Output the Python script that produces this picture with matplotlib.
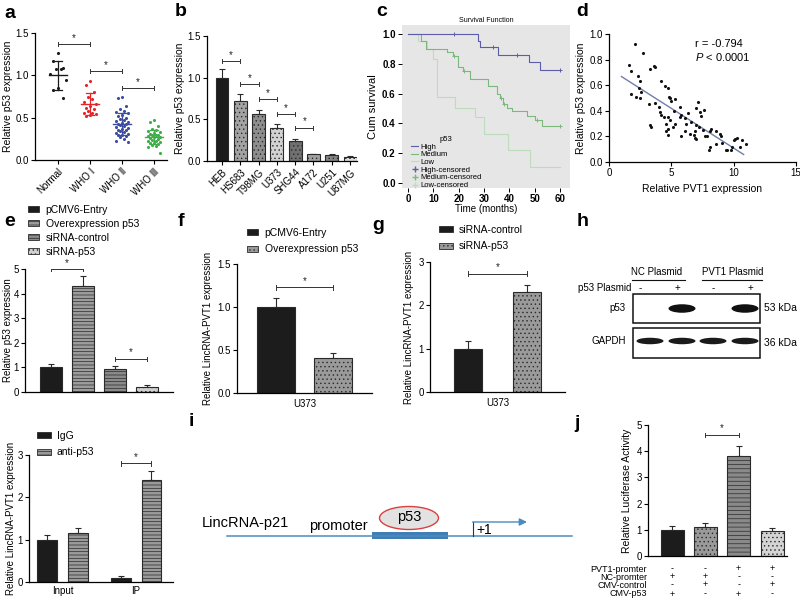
import numpy as np
import matplotlib
matplotlib.use('Agg')
import matplotlib.pyplot as plt
import matplotlib.transforms as mtransforms
from matplotlib.patches import Rectangle, Ellipse, Patch
from matplotlib.lines import Line2D

plt.rcParams['font.family'] = ['Liberation Sans', 'DejaVu Sans']
plt.rcParams['mathtext.fontset'] = 'custom'
plt.rcParams['mathtext.it'] = 'Liberation Sans:italic'
plt.rcParams['mathtext.rm'] = 'Liberation Sans'
plt.rcParams['hatch.linewidth'] = 0.5
plt.rcParams['axes.linewidth'] = 0.9

# ---------------- data ----------------
# panel a
a_groups = ['Normal', 'WHO Ⅰ', 'WHO Ⅱ', 'WHO Ⅲ']
a_normal = [1.26, 1.17, 1.09, 1.08, 1.07, 1.02, 0.95, 0.85, 0.83, 0.73]
a_who1 = [0.93, 0.88, 0.80, 0.74, 0.72, 0.68, 0.66, 0.64, 0.62, 0.60, 0.58, 0.56, 0.55, 0.54, 0.53, 0.52]
a_who2 = [0.75, 0.73, 0.64, 0.60, 0.58, 0.57, 0.55, 0.53, 0.52, 0.50, 0.49, 0.47, 0.46, 0.45, 0.44,
          0.43, 0.42, 0.41, 0.40, 0.39, 0.38, 0.37, 0.36, 0.35, 0.34, 0.33, 0.32, 0.31, 0.30, 0.29,
          0.28, 0.27, 0.25, 0.23, 0.21]
a_who3 = [0.47, 0.45, 0.40, 0.37, 0.36, 0.34, 0.33, 0.32, 0.31, 0.30, 0.29, 0.29, 0.28, 0.27, 0.27,
          0.26, 0.25, 0.24, 0.23, 0.22, 0.21, 0.20, 0.20, 0.19, 0.18, 0.17, 0.15, 0.08]
a_means = [1.00, 0.66, 0.42, 0.27]
a_sds = [0.17, 0.13, 0.13, 0.08]

# panel b
b_cells = ['HEB', 'HS683', 'T98MG', 'U373', 'SHG44', 'A172', 'U251', 'U87MG']
b_vals = [1.00, 0.72, 0.56, 0.40, 0.24, 0.08, 0.07, 0.05]
b_errs = [0.10, 0.08, 0.05, 0.04, 0.03, 0.01, 0.015, 0.01]

# panel c (Kaplan-Meier)
c_high_t = [0, 27.7, 28.4, 35.6, 47.9, 52.0, 60]
c_high_s = [1.0, 0.95, 0.91, 0.86, 0.81, 0.76, 0.76]
c_high_cens_t = [18, 33.6, 42.9, 60]
c_high_cens_s = [1.0, 0.91, 0.86, 0.76]
c_med_t = [0, 5, 7, 15.4, 17.8, 19.8, 21.8, 24.4, 31.7, 35, 36.2, 37.6, 39, 41, 46.8, 50, 52.8, 60]
c_med_s = [1.0, 0.95, 0.90, 0.88, 0.85, 0.78, 0.75, 0.70, 0.65, 0.60, 0.57, 0.53, 0.50, 0.48, 0.45, 0.42, 0.38, 0.38]
c_med_cens_t = [18, 22, 36.5, 38, 51, 60]
c_med_cens_s = [0.85, 0.75, 0.57, 0.53, 0.42, 0.38]
c_low_t = [0, 4, 7.3, 10, 11.5, 18.5, 26.4, 30, 39.5, 48, 60]
c_low_s = [1.0, 0.95, 0.90, 0.83, 0.58, 0.50, 0.44, 0.33, 0.22, 0.11, 0.11]

# panel d
d_pvt1 = [2.08, 2.7, 1.62, 1.8, 2.35, 2.5, 2.43, 2.6, 1.8, 2.2, 2.5, 3.3, 3.6, 3.7, 4.2, 4.5, 4.7, 4.8,
          4.9, 5.0, 5.3, 3.2, 3.7, 4.0, 4.1, 4.2, 4.4, 4.7, 4.9, 3.3, 3.35, 4.6, 4.7, 4.75, 4.6, 5.1,
          5.3, 5.2, 5.7, 5.8, 5.7, 5.8, 6.1, 6.2, 6.3, 6.6, 6.8, 6.9, 7.0, 6.9, 7.0, 7.2, 7.1, 7.0,
          7.3, 7.4, 7.6, 7.5, 7.7, 7.9, 8.0, 8.1, 8.1, 8.2, 8.6, 8.6, 8.9, 9.0, 9.1, 9.4, 9.5, 9.8,
          9.9, 10.0, 10.1, 10.3, 10.5, 10.7, 11.0, 6.5, 6.1]
d_p53 = [0.92, 0.85, 0.76, 0.71, 0.67, 0.63, 0.58, 0.55, 0.53, 0.51, 0.50, 0.73, 0.75, 0.74, 0.63, 0.59,
         0.58, 0.51, 0.50, 0.48, 0.49, 0.45, 0.46, 0.43, 0.39, 0.37, 0.35, 0.35, 0.33, 0.29, 0.27, 0.30,
         0.26, 0.21, 0.24, 0.27, 0.30, 0.40, 0.35, 0.37, 0.43, 0.20, 0.34, 0.30, 0.38, 0.31, 0.21, 0.19,
         0.18, 0.24, 0.29, 0.27, 0.47, 0.42, 0.39, 0.36, 0.41, 0.25, 0.20, 0.20, 0.09, 0.12, 0.24, 0.26,
         0.24, 0.14, 0.22, 0.20, 0.15, 0.09, 0.09, 0.09, 0.12, 0.17, 0.18, 0.19, 0.12, 0.17, 0.14, 0.22, 0.24]
d_fit_x = [1.0, 10.8]
d_r_text = 'r = -0.794'
d_p_text = '$P$ < 0.0001'

# panel e
e_labels = ['pCMV6-Entry', 'Overexpression p53', 'siRNA-control', 'siRNA-p53']
e_vals = [1.00, 4.30, 0.93, 0.20]
e_errs = [0.12, 0.40, 0.12, 0.08]

# panel f
f_labels = ['pCMV6-Entry', 'Overexpression p53']
f_vals = [1.00, 0.41]
f_errs = [0.11, 0.06]

# panel g
g_labels = ['siRNA-control', 'siRNA-p53']
g_vals = [1.00, 2.30]
g_errs = [0.17, 0.18]

# ChIP panel
chip_groups = ['Input', 'IP']
chip_labels = ['IgG', 'anti-p53']
chip_igg = [1.00, 0.10]
chip_igg_err = [0.12, 0.03]
chip_anti = [1.16, 2.40]
chip_anti_err = [0.12, 0.22]

# panel j
j_vals = [1.00, 1.12, 3.83, 0.95]
j_errs = [0.13, 0.15, 0.35, 0.10]
j_rows = ['PVT1-promter', 'NC-promter', 'CMV-control', 'CMV-p53']
j_signs = [['-', '-', '+', '+'],
           ['+', '+', '-', '-'],
           ['-', '+', '-', '+'],
           ['+', '-', '+', '-']]

# panel h
h_groups = ['NC Plasmid', 'PVT1 Plasmid']
h_p53_plasmid = ['-', '+', '-', '+']

# ---------------- helpers ----------------
W, H = 800, 609
fig = plt.figure(figsize=(8, 6.09), dpi=100)


def add_ax(l, t, r, b, **kw):
    return fig.add_axes([l / W, 1 - b / H, (r - l) / W, (b - t) / H], **kw)


def ftext(x, y, s, **kw):
    fig.text(x / W, 1 - y / H, s, **kw)


def prism(ax, ylim, yticks, yfmt=None):
    ax.spines[['top', 'right']].set_visible(False)
    ax.set_ylim(*ylim)
    ax.set_yticks(yticks)
    if yfmt:
        ax.set_yticklabels([yfmt.format(v) for v in yticks])
    ax.tick_params(labelsize=7, length=3, width=0.8, pad=1.5)


def bracket(ax, x1, x2, y, h, color='#333333'):
    ax.plot([x1, x2], [y, y], color=color, lw=0.7, solid_capstyle='butt')
    ax.plot([x1, x1], [y - h, y + h], color=color, lw=0.7)
    ax.plot([x2, x2], [y - h, y + h], color=color, lw=0.7)
    ax.text((x1 + x2) / 2, y + h * 0.6, '*', ha='center', va='bottom', fontsize=7, color='#222222')


def draw_bars(ax, x, vals, errs, colors, hatches, width):
    for xi, v, c, h in zip(x, vals, colors, hatches):
        ax.bar(xi, v, width, color=c, edgecolor='#2a2a2a', hatch=h, lw=0.8, zorder=2)
    ax.errorbar(x, vals, yerr=[np.zeros(len(errs)), errs], fmt='none', ecolor='#2a2a2a',
                elinewidth=0.8, capsize=2.5, capthick=0.8, zorder=1)


def bar_legend(ax, cols, hatches, labels, x, y, spacing=0.6, hl=1.3):
    ax.legend([Patch(facecolor=c, edgecolor='#2a2a2a', hatch=h, lw=0.6) for c, h in zip(cols, hatches)],
              labels, loc='upper left', bbox_to_anchor=(x / W, 1 - y / H), bbox_transform=fig.transFigure,
              frameon=False, fontsize=7.5, handlelength=hl, handleheight=0.5, handletextpad=0.6,
              labelspacing=spacing, borderpad=0, borderaxespad=0)


DARK = '#1c1c1c'

# ---------------- panel a ----------------
ax = add_ax(35, 33, 167, 160)
prism(ax, (0, 1.5), [0, 0.5, 1.0, 1.5], '{:.1f}')
ax.set_xlim(-0.72, 3.41)
a_data = [a_normal, a_who1, a_who2, a_who3]
a_cols = ['#1a1a1a', '#e3262b', '#3d4ea0', '#3fae49']
pattern = [0.0, -0.13, 0.13, -0.065, 0.065, -0.2, 0.2]
for i, (vals, col) in enumerate(zip(a_data, a_cols)):
    vs = sorted(vals, reverse=True)
    xs = [i + pattern[k % len(pattern)] * (1.2 if i == 0 else 1.0) for k in range(len(vs))]
    ax.scatter(xs, vs, s=5, color=col, zorder=3, linewidths=0)
    m, sd = a_means[i], a_sds[i]
    ax.plot([i - 0.27, i + 0.27], [m, m], color=col, lw=1.0, zorder=4)
    ax.plot([i, i], [m - sd, m + sd], color=col, lw=0.9, zorder=4)
    ax.plot([i - 0.13, i + 0.13], [m + sd, m + sd], color=col, lw=0.9, zorder=4)
    ax.plot([i - 0.13, i + 0.13], [m - sd, m - sd], color=col, lw=0.9, zorder=4)
ax.set_xticks(range(4))
ax.set_xticklabels(a_groups, rotation=45, ha='right', rotation_mode='anchor', fontsize=7)
ax.set_ylabel('Relative p53 expression', fontsize=7.5, labelpad=1.5)
bracket(ax, 0, 1, 1.37, 0.025)
bracket(ax, 1, 2, 1.05, 0.025)
bracket(ax, 2, 3, 0.85, 0.025)

# ---------------- panel b ----------------
ax = add_ax(207, 36, 357, 161)
prism(ax, (0, 1.5), [0, 0.5, 1.0, 1.5], '{:.1f}')
ax.set_xlim(-0.82, 7.38)
b_cols = [DARK, '#a3a3a3', '#8e8e8e', '#d2d2d2', '#707070', '#a0a0a0', '#858585', '#e2e2e2']
b_hatch = ['', '....', '....', '....', '....', '....', '....', '....']
xb = np.arange(len(b_vals))
draw_bars(ax, xb, b_vals, b_errs, b_cols, b_hatch, 0.71)
ax.set_xticks(xb)
ax.set_xticklabels(b_cells, rotation=45, ha='right', rotation_mode='anchor', fontsize=7)
ax.set_ylabel('Relative p53 expression', fontsize=7.5, labelpad=2)
for (i1, i2, yy) in [(0, 1, 1.20), (1, 2, 0.92), (2, 3, 0.74), (3, 4, 0.56), (4, 5, 0.40)]:
    bracket(ax, i1, i2, yy, 0.025)

# ---------------- panel c ----------------
ax = add_ax(402, 25, 570, 188)
ax.set_facecolor('#e6e6e6')
for s in ax.spines.values():
    s.set_visible(False)
ax.set_xlim(-2.37, 63.9)
ax.set_ylim(-0.034, 1.06)
ax.set_xticks([0, 10, 20, 30, 40, 50, 60])
ax.set_yticks([0, 0.2, 0.4, 0.6, 0.8, 1.0])
ax.set_yticklabels(['0.0', '0.2', '0.4', '0.6', '0.8', '1.0'])
ax.tick_params(labelsize=7, length=3, width=0.7, pad=1.5)
for lab in ax.get_xticklabels() + ax.get_yticklabels():
    lab.set_fontweight('bold')
c_cols = ['#5c5ca8', '#7cb87c', '#bcdcbc']
ax.step(c_low_t, c_low_s, where='post', color=c_cols[2], lw=0.8)
ax.step(c_med_t, c_med_s, where='post', color=c_cols[1], lw=0.8)
ax.step(c_high_t, c_high_s, where='post', color=c_cols[0], lw=0.8)
ax.plot(c_high_cens_t, c_high_cens_s, '+', color=c_cols[0], ms=3, mew=0.7)
ax.plot(c_med_cens_t, c_med_cens_s, '+', color=c_cols[1], ms=3, mew=0.7)
ax.set_ylabel('Cum survival', fontsize=8, labelpad=3)
ax.set_xlabel('Time (months)', fontsize=7, labelpad=0)
ax.set_title('Survival Function', fontsize=5, pad=2)
handles = [Line2D([], [], color=c_cols[0], lw=0.8), Line2D([], [], color=c_cols[1], lw=0.8),
           Line2D([], [], color=c_cols[2], lw=0.8),
           Line2D([], [], color=c_cols[0], marker='+', ls='none', ms=4),
           Line2D([], [], color=c_cols[1], marker='+', ls='none', ms=4),
           Line2D([], [], color=c_cols[2], marker='+', ls='none', ms=4)]
ax.legend(handles, ['High', 'Medium', 'Low', 'High-censored', 'Medium-censored', 'Low-censored'],
          title='p53', fontsize=5.5, title_fontsize=5.5, loc='upper left',
          bbox_to_anchor=(407 / W, 1 - 132 / H), bbox_transform=fig.transFigure, frameon=False,
          handlelength=1.0, handletextpad=0.2, labelspacing=0.05, borderpad=0)

# ---------------- panel d ----------------
ax = add_ax(609, 34, 796, 162)
prism(ax, (0, 1.0), [0, 0.2, 0.4, 0.6, 0.8, 1.0], '{:.1f}')
ax.set_xlim(0, 15)
ax.set_xticks([0, 5, 10, 15])
ax.scatter(d_pvt1, d_p53, s=5, color='#111111', linewidths=0, zorder=3)
coef = np.polyfit(d_pvt1, d_p53, 1)
xr = np.array(d_fit_x)
ax.plot(xr, np.polyval(coef, xr), color='#6f7fa8', lw=1.0, zorder=2)
ax.set_xlabel('Relative PVT1 expression', fontsize=7.5, labelpad=4)
ax.set_ylabel('Relative p53 expression', fontsize=7.5, labelpad=2)
ax.text(0.46, 0.9, d_r_text, transform=ax.transAxes, fontsize=8)
ax.text(0.46, 0.79, d_p_text, transform=ax.transAxes, fontsize=8)

# ---------------- panel e ----------------
ax = add_ax(25, 269, 173, 392)
prism(ax, (0, 5), [0, 1, 2, 3, 4, 5])
ax.set_xlim(-0.81, 3.81)
e_cols = [DARK, '#9c9c9c', '#8a8a8a', '#d0d0d0']
e_hatch = ['', '-----', '-----', '....']
xe = np.arange(4)
draw_bars(ax, xe, e_vals, e_errs, e_cols, e_hatch, 0.69)
ax.set_xticks([])
ax.set_ylabel('Relative p53 expression', fontsize=7, labelpad=0.5)
bracket(ax, 0, 1, 5.0, 0.09)
bracket(ax, 2, 3, 1.35, 0.09)
bar_legend(ax, e_cols, e_hatch, e_labels, 28, 205, spacing=0.38, hl=1.1)

# ---------------- panel f ----------------
ax = add_ax(237, 264, 372, 393)
prism(ax, (0, 1.5), [0, 0.5, 1.0, 1.5], '{:.1f}')
ax.set_xlim(-0.684, 1.684)
f_cols = [DARK, '#9a9a9a']
f_hatch = ['', '....']
draw_bars(ax, [0, 1], f_vals, f_errs, f_cols, f_hatch, 0.67)
ax.set_xticks([0.5])
ax.set_xticklabels(['U373'], fontsize=7)
ax.tick_params(axis='x', length=0, pad=4)
ax.set_ylabel('Relative LincRNA-PVT1 expression', fontsize=7, labelpad=3)
bracket(ax, 0, 1, 1.23, 0.03)
bar_legend(ax, f_cols, f_hatch, f_labels, 247, 228, hl=1.1)

# ---------------- panel g ----------------
ax = add_ax(430, 262, 565, 392)
prism(ax, (0, 3), [0, 1, 2, 3])
ax.set_xlim(-0.644, 1.644)
g_cols = [DARK, '#9a9a9a']
g_hatch = ['', '....']
draw_bars(ax, [0, 1], g_vals, g_errs, g_cols, g_hatch, 0.48)
ax.set_xticks([0.5])
ax.set_xticklabels(['U373'], fontsize=7)
ax.tick_params(axis='x', length=0, pad=4)
ax.set_ylabel('Relative LincRNA-PVT1 expression', fontsize=7, labelpad=3)
bracket(ax, 0, 1, 2.73, 0.06)
bar_legend(ax, g_cols, g_hatch, g_labels, 439, 225)

# ---------------- ChIP panel ----------------
ax = add_ax(29, 455, 173, 582)
prism(ax, (0, 3), [0, 1, 2, 3])
ax.set_xlim(-0.456, 1.503)
xg = np.arange(2)
chip_cols = [DARK, '#9a9a9a']
chip_hatch = ['', '-----']
off = 0.21
for k, (vals, errs) in enumerate([(chip_igg, chip_igg_err), (chip_anti, chip_anti_err)]):
    draw_bars(ax, xg + (k - 0.5) * 2 * off, vals, errs, [chip_cols[k]] * 2, [chip_hatch[k]] * 2, 0.27)
ax.set_xticks(xg)
ax.set_xticklabels(chip_groups, fontsize=7)
ax.tick_params(axis='x', length=0, pad=3)
ax.set_ylabel('Relative LincRNA-PVT1 expression', fontsize=7, labelpad=1)
bracket(ax, 1 - off, 1 + off, 2.8, 0.06)
bar_legend(ax, chip_cols, chip_hatch, chip_labels, 37, 431)

# ---------------- panel j ----------------
ax = add_ax(648, 425, 787, 556)
prism(ax, (0, 5), [0, 1, 2, 3, 4, 5])
ax.set_xlim(-0.72, 3.45)
j_cols = [DARK, '#9a9a9a', '#8a8a8a', '#d4d4d4']
j_hatch = ['', '....', '----', '....']
xj = np.arange(4)
draw_bars(ax, xj, j_vals, j_errs, j_cols, j_hatch, 0.69)
ax.set_xticks([])
ax.set_ylabel('Relative Luciferase Activity', fontsize=7.5, labelpad=3)
bracket(ax, 1, 2, 4.62, 0.09)
row_y = [569, 577, 585, 594]
blend = mtransforms.blended_transform_factory(ax.transData, fig.transFigure)
for r, (name, yy) in enumerate(zip(j_rows, row_y)):
    ftext(647, yy, name, ha='right', va='center', fontsize=6.5)
    for k in range(4):
        ax.text(xj[k], 1 - yy / H, j_signs[r][k], transform=blend, ha='center', va='center', fontsize=6.5)

# ---------------- overlay for h and i ----------------
ov = fig.add_axes([0, 0, 1, 1])
ov.set_xlim(0, W)
ov.set_ylim(H, 0)
ov.axis('off')
ov.patch.set_alpha(0)

# panel h (western blot)
lane_sign_x = [640, 677, 713, 750]
band_x = [650, 682, 713, 745]
ov.add_patch(Rectangle((633, 294), 127, 29, fill=False, ec='#111111', lw=1.1))
ov.add_patch(Rectangle((633, 328), 127, 30, fill=False, ec='#111111', lw=1.1))
for k in (1, 3):
    ov.add_patch(Ellipse((band_x[k], 308.5), 27, 8.5, fc='#111111', ec='none'))
for k in range(4):
    ov.add_patch(Ellipse((band_x[k], 341), 27, 6.5, fc='#1a1a1a', ec='none'))
ov.text(657, 272, h_groups[0], ha='center', va='center', fontsize=7)
ov.text(733, 272, h_groups[1], ha='center', va='center', fontsize=7)
ov.plot([632, 685], [279.5, 279.5], color='#111111', lw=0.8)
ov.plot([702, 762], [279.5, 279.5], color='#111111', lw=0.8)
ov.text(631, 288, 'p53 Plasmid', ha='right', va='center', fontsize=7)
for k in range(4):
    ov.text(lane_sign_x[k], 288, h_p53_plasmid[k], ha='center', va='center', fontsize=7)
ov.text(626, 308, 'p53', ha='right', va='center', fontsize=7)
ov.text(626, 341, 'GAPDH', ha='right', va='center', fontsize=7)
ov.text(764, 308, '53 kDa', ha='left', va='center', fontsize=7.5)
ov.text(764, 343, '36 kDa', ha='left', va='center', fontsize=7.5)

# panel i (diagram)
BLUE = '#4a8cc0'
ov.plot([227, 572], [536, 536], color=BLUE, lw=1.1)
ov.add_patch(Rectangle((372, 532), 76, 7, fc='#3f7fb5', ec='none'))
ov.add_patch(Ellipse((409, 518), 59, 23, fc='#e2e2e2', ec='#d9413f', lw=1.0))
ov.text(409, 517, 'p53', ha='center', va='center', fontsize=10.5)
ov.text(202, 523, 'LincRNA-p21', ha='left', va='center', fontsize=10.5)
ov.text(309, 526, 'promoter', ha='left', va='center', fontsize=10.5)
ov.plot([473, 473], [536, 522], color='#333333', lw=0.8)
ov.annotate('', xy=(527, 522), xytext=(472.6, 522),
            arrowprops=dict(arrowstyle='-|>', color=BLUE, lw=1.0, mutation_scale=11, shrinkA=0, shrinkB=0))
ov.text(476, 530, '+1', ha='left', va='center', fontsize=10)

# panel letters
for letter, x, y in [('a', 10, 13), ('b', 181, 12), ('c', 382, 11), ('d', 582, 12), ('e', 10, 222),
                     ('f', 181, 222), ('g', 378, 225), ('h', 583, 222), ('i', 191, 421), ('j', 577, 424)]:
    ftext(x, y, letter, ha='center', va='center', fontsize=14, fontweight='bold')

fig.savefig('out.png', dpi=100)
